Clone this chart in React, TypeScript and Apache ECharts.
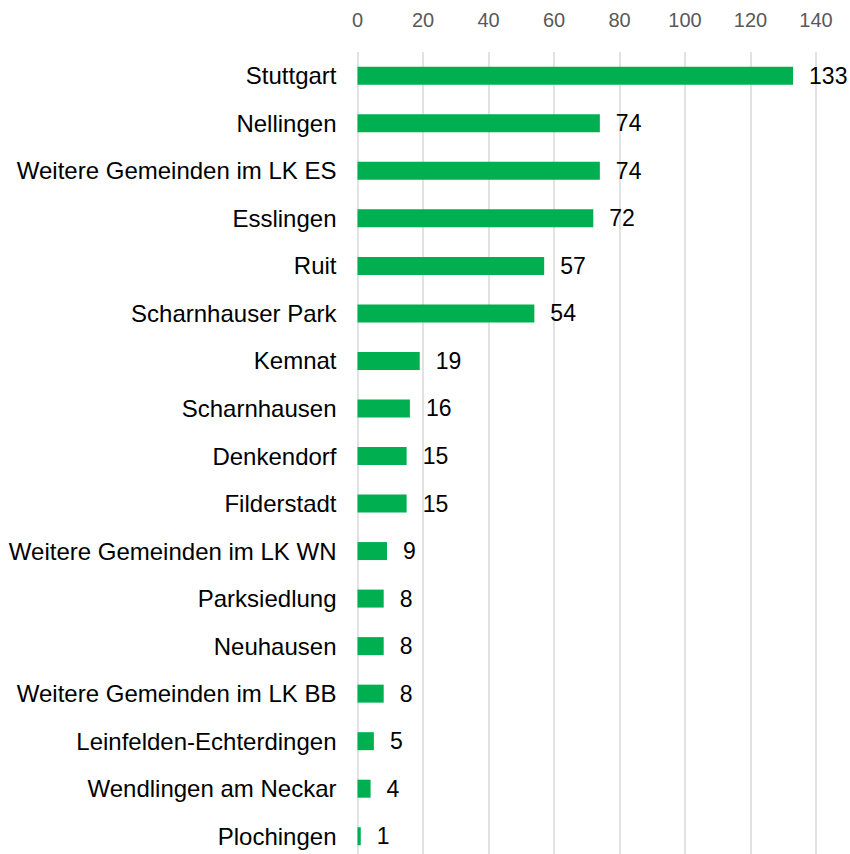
import React, { useEffect, useRef } from "react";
import * as echarts from "echarts";

const categories = [
  "Stuttgart",
  "Nellingen",
  "Weitere Gemeinden im LK ES",
  "Esslingen",
  "Ruit",
  "Scharnhauser Park",
  "Kemnat",
  "Scharnhausen",
  "Denkendorf",
  "Filderstadt",
  "Weitere Gemeinden im LK WN",
  "Parksiedlung",
  "Neuhausen",
  "Weitere Gemeinden im LK BB",
  "Leinfelden-Echterdingen",
  "Wendlingen am Neckar",
  "Plochingen",
];
const values = [133, 74, 74, 72, 57, 54, 19, 16, 15, 15, 9, 8, 8, 8, 5, 4, 1];
const axisMin = 0;
const axisMax = 140;
const axisInterval = 20;

export default function App() {
  const ref = useRef<HTMLDivElement>(null);
  useEffect(() => {
    if (!ref.current) return;
    const chart = echarts.init(ref.current, undefined, { renderer: "svg" });
    chart.setOption({
      animation: false,
      backgroundColor: "#ffffff",
      grid: {
        left: 357.5,
        top: 52,
        width: 458.5,
        height: 808,
        containLabel: false,
        outerBoundsMode: "none",
      },
      xAxis: {
        type: "value",
        position: "top",
        min: axisMin,
        max: axisMax,
        interval: axisInterval,
        axisLine: { show: false },
        axisTick: { show: false },
        splitLine: { show: true, lineStyle: { color: "#d9d9d9", width: 1.5 } },
        axisLabel: {
          color: "#595959",
          fontSize: 20,
          fontFamily: "Liberation Sans, Arial, sans-serif",
          margin: 22,
        },
      },
      yAxis: {
        type: "category",
        data: categories,
        inverse: true,
        axisLine: { show: false },
        axisTick: { show: false },
        splitLine: { show: false },
        axisLabel: {
          color: "#000000",
          fontSize: 24,
          fontFamily: "Liberation Sans, Arial, sans-serif",
          margin: 21,
        },
      },
      series: [
        {
          type: "bar",
          data: values,
          barWidth: 18,
          itemStyle: { color: "#00B050" },
          label: {
            show: true,
            position: "right",
            distance: 16,
            color: "#000000",
            fontSize: 23,
            fontFamily: "Liberation Sans, Arial, sans-serif",
          },
        },
      ],
    });
    return () => chart.dispose();
  }, []);
  return (
    <div
      ref={ref}
      style={{ position: "fixed", left: 0, top: 0, width: 850, height: 854 }}
    />
  );
}
